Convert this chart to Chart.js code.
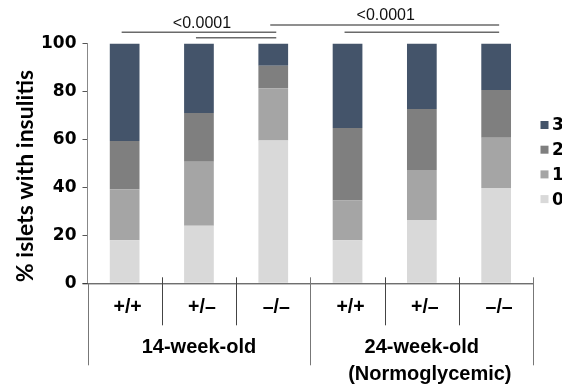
<!DOCTYPE html>
<html>
<head>
<meta charset="utf-8">
<script src="https://cdn.jsdelivr.net/npm/chart.js@4.4.0/dist/chart.umd.min.js"></script>
<style>
  body { margin: 0; background: #fff; }
  #wrap { width: 562px; height: 387px; }
</style>
</head>
<body>
<div id="wrap"><canvas id="myChart" width="562" height="387"></canvas></div>
<script>
// genotypes per bar, and the two age groups underneath
const genotypes = ["+/+", "+/\u2013", "\u2013/\u2013", "+/+", "+/\u2013", "\u2013/\u2013"];
const groups = ["14-week-old", "24-week-old"];
const groupSub = ["", "(Normoglycemic)"];

// % islets per insulitis score
const score0 = [18.0, 24.0, 59.6, 18.0, 26.4, 39.7];
const score1 = [21.2, 26.7, 21.7, 16.5, 20.8, 21.0];
const score2 = [20.1, 20.3, 9.4, 30.3, 25.5, 19.9];
const score3 = [40.7, 29.0, 9.3, 35.2, 27.3, 19.4];
const scoreLabels = ["0", "1", "2", "3"];
const scoreColors = ["#D9D9D9", "#A5A5A5", "#7F7F7F", "#44546A"];

const yTicks = [0, 20, 40, 60, 80, 100];

// significance brackets: [fromBar, toBar, level]
const brackets = [[0, 2, 1], [1, 2, 0], [2, 5, 2], [3, 5, 1]];
const pLabels = [{ text: "<0.0001", over: [0, 2], level: 0 }, { text: "<0.0001", over: [2, 5], level: 1 }];

const tickFont = "bold 17px 'DejaVu Sans'";

const extrasPlugin = {
  id: "extras",
  afterDraw(chart) {
    const ctx = chart.ctx;
    const area = chart.chartArea;
    const x = chart.scales.x;
    const step = x.getPixelForValue(1) - x.getPixelForValue(0);
    const bottom = area.bottom;
    ctx.save();

    // x axis line
    ctx.strokeStyle = "#333";
    ctx.lineWidth = 1;
    ctx.beginPath();
    ctx.moveTo(area.left - 5, bottom + 0.5);
    ctx.lineTo(area.right, bottom + 0.5);
    ctx.stroke();

    // dividers between categories and groups
    for (let i = 0; i <= genotypes.length; i++) {
      const dx = Math.round(x.getPixelForValue(i) - step / 2) + 0.5;
      const isGroup = i % 3 === 0;
      ctx.strokeStyle = isGroup ? "#777" : "#444";
      ctx.beginPath();
      ctx.moveTo(dx, i === 0 ? bottom : bottom - 6);
      ctx.lineTo(dx, isGroup ? bottom + 82 : bottom + 42);
      ctx.stroke();
    }

    // genotype labels
    ctx.fillStyle = "#000";
    ctx.textAlign = "center";
    ctx.textBaseline = "middle";
    ctx.font = "bold 19.5px 'Liberation Sans'";
    genotypes.forEach((g, i) => {
      ctx.fillText(g, x.getPixelForValue(i) + 3, bottom + 24);
    });

    // group labels
    ctx.font = "bold 20px 'Liberation Sans'";
    ctx.textBaseline = "alphabetic";
    groups.forEach((g, k) => {
      const cx = (x.getPixelForValue(k * 3) + x.getPixelForValue(k * 3 + 2)) / 2;
      ctx.fillText(g, cx, bottom + 70);
      if (groupSub[k]) ctx.fillText(groupSub[k], cx + 8, bottom + 97);
    });

    // y axis title
    ctx.save();
    ctx.translate(33, 176);
    ctx.rotate(-Math.PI / 2);
    ctx.font = "bold 23px Lato";
    ctx.textBaseline = "alphabetic";
    ctx.fillText("% islets with insulitis", 0, 0);
    ctx.restore();

    // significance brackets
    const levelY = [area.top - 5.8, area.top - 11.2, area.top - 18.5];
    ctx.strokeStyle = "#6a6a6a";
    ctx.lineWidth = 1.5;
    brackets.forEach(([a, b, lv]) => {
      ctx.beginPath();
      ctx.moveTo(x.getPixelForValue(a) - 3, levelY[lv]);
      ctx.lineTo(x.getPixelForValue(b) + 3, levelY[lv]);
      ctx.stroke();
    });
    ctx.font = "16px 'Liberation Sans'";
    ctx.fillStyle = "#111";
    const labelBase = [area.top - 15.2, area.top - 23.5];
    pLabels.forEach(p => {
      const cx = (x.getPixelForValue(p.over[0]) + x.getPixelForValue(p.over[1])) / 2;
      ctx.fillText(p.text, cx + (p.level === 0 ? 3 : 1), labelBase[p.level]);
    });

    // legend (top score first), partly cut by the right edge
    ctx.font = tickFont;
    ctx.textAlign = "left";
    ctx.textBaseline = "middle";
    const ds = chart.data.datasets;
    for (let r = 0; r < ds.length; r++) {
      const d = ds[ds.length - 1 - r];
      const cy = 125 + r * 24.7;
      ctx.fillStyle = d.backgroundColor;
      ctx.fillRect(540.5, cy - 4, 8, 8);
      ctx.fillStyle = "#000";
      ctx.fillText(d.label, 552, cy + 1);
    }
    ctx.restore();
  }
};

const seriesValues = [score0, score1, score2, score3];

new Chart(document.getElementById("myChart").getContext("2d"), {
  type: "bar",
  data: {
    labels: genotypes,
    datasets: seriesValues.map((vals, i) => ({
      label: scoreLabels[i],
      data: vals,
      backgroundColor: scoreColors[i],
      borderWidth: 0,
      categoryPercentage: 1,
      barPercentage: 0.4
    }))
  },
  options: {
    responsive: false,
    animation: false,
    devicePixelRatio: 1,
    layout: { padding: { left: 0, right: 28.7, top: 43.5, bottom: 103.7 } },
    plugins: { legend: { display: false }, tooltip: { enabled: false } },
    scales: {
      x: { stacked: true, display: false },
      y: {
        stacked: true,
        min: 0,
        max: 100,
        afterFit: (s) => { s.width = 87.5; },
        afterBuildTicks: (s) => { s.ticks = yTicks.map(v => ({ value: v })); },
        ticks: { font: { family: "DejaVu Sans", weight: "bold", size: 17 }, color: "#000", padding: 6 },
        grid: { drawOnChartArea: false, tickLength: 5, color: "#555" },
        border: { color: "#888", width: 1 }
      }
    }
  },
  plugins: [extrasPlugin]
});
</script>
</body>
</html>
